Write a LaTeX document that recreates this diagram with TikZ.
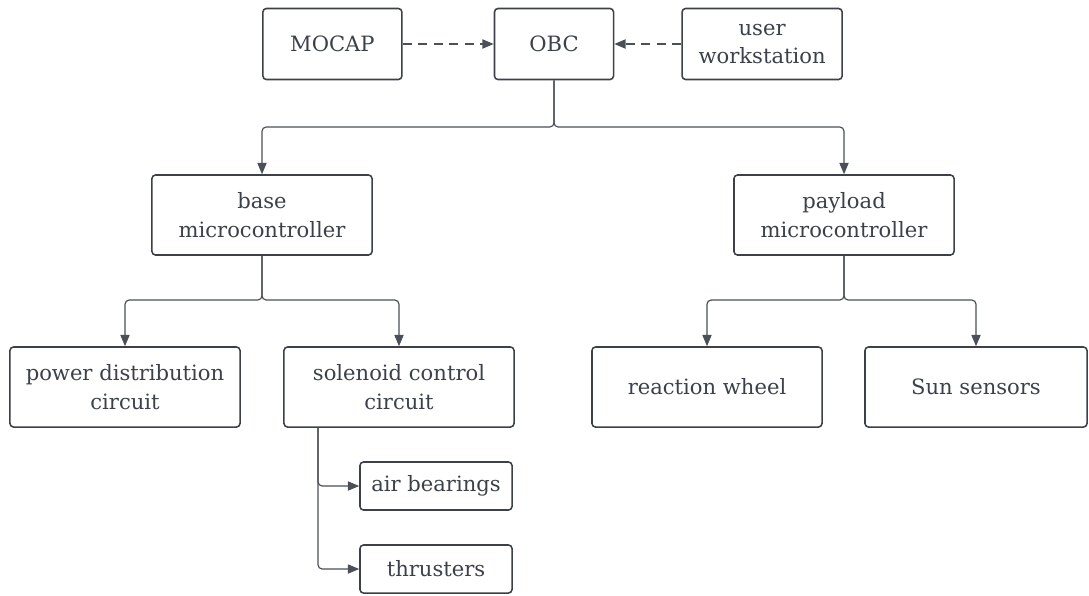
\documentclass[tikz,border=0pt]{standalone}
\usepackage{fontspec}
\setmainfont{DejaVu Serif}
\usetikzlibrary{arrows.meta,positioning}
\definecolor{inkgray}{HTML}{3B4049}
\definecolor{linegray}{HTML}{4A4F58}

\begin{document}
\begin{tikzpicture}[x=0.025cm, y=-0.025cm, >={Triangle[length=8pt,width=6.5pt]},
	block/.style={draw=inkgray, line width=1.1pt, rounded corners=2.5pt, text=inkgray,
		align=center, inner sep=0pt, font=\fontsize{15}{20.5}\selectfont},
	topbox/.style={block, minimum height=1.775cm},
	ctrlbox/.style={block, minimum width=5.5cm, minimum height=2cm},
	unitbox/.style={block, minimum width=5.75cm, minimum height=2cm},
	partbox/.style={block, minimum width=3.8cm, minimum height=1.2cm},
	link/.style={draw=linegray, line width=0.85pt, rounded corners=3pt, ->},
	dashlink/.style={link, line width=1pt, dash pattern=on 6.5pt off 4.5pt}]
\useasboundingbox (0,0) rectangle (1089,595);

\node[topbox, minimum width=2.975cm] (obc) at (554,44) {OBC};
\node[topbox, minimum width=3.475cm] (mocap) [left=2.275cm of obc] {MOCAP};
\node[topbox, minimum width=4cm] (user) [right=1.675cm of obc] {user\\workstation};

\node[ctrlbox] (base) at (262,215) {base\\microcontroller};
\node[ctrlbox] (payload) at (844,215) {payload\\microcontroller};

\node[unitbox] (power) at (125,387) {power distribution\\circuit};
\node[unitbox] (solenoid) at (399,387) {solenoid control\\circuit};
\node[unitbox] (wheel) at (707,387) {reaction wheel};
\node[unitbox, minimum width=5.55cm] (sun) at (976,387) {Sun sensors};

\node[partbox] (air) at (436,486) {air bearings};
\node[partbox] (thrust) at (436,569) {thrusters};

\coordinate (obcsplit) at (554,127);
\coordinate (basesplit) at (262,300);
\coordinate (paysplit) at (844,300);
\coordinate (soltrunk) at (318,427);

\draw[dashlink] (mocap) -- (obc);
\draw[dashlink] (user) -- (obc);

\draw[link] (obc.south) -- (obcsplit) -| (base.north);
\draw[link] (obc.south) -- (obcsplit) -| (payload.north);
\draw[link] (base.south) -- (basesplit) -| (power.north);
\draw[link] (base.south) -- (basesplit) -| (solenoid.north);
\draw[link] (payload.south) -- (paysplit) -| (wheel.north);
\draw[link] (payload.south) -- (paysplit) -| (sun.north);
\draw[link] (soltrunk) |- (air.west);
\draw[link] (soltrunk) |- (thrust.west);
\end{tikzpicture}
\end{document}
